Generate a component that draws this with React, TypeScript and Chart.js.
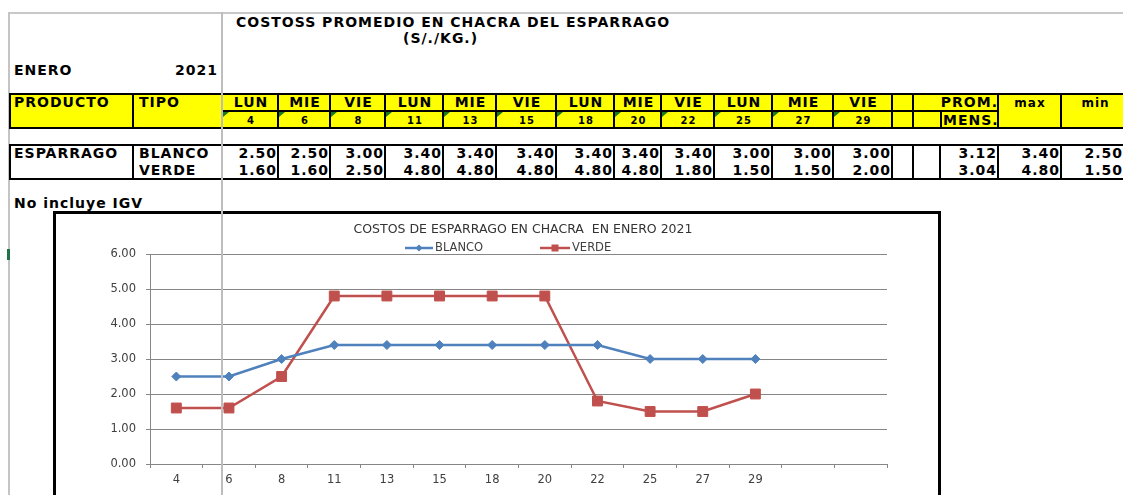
import React, { useEffect, useRef } from "react";
import { Chart, registerables } from "chart.js";

Chart.register(...registerables);

// ---------- data ----------
const SHEET_TITLE = "COSTOSS PROMEDIO EN CHACRA DEL ESPARRAGO";
const SHEET_UNIT = "(S/./KG.)";
const MONTH = "ENERO";
const YEAR = "2021";
const PRODUCT = "ESPÀRRAGO";
const TYPES = ["BLANCO", "VERDE"];
const DAY_NAMES = ["LUN", "MIE", "VIE", "LUN", "MIE", "VIE", "LUN", "MIE", "VIE", "LUN", "MIE", "VIE"];
const DAY_DATES = ["4", "6", "8", "11", "13", "15", "18", "20", "22", "25", "27", "29"];
const CHART_LABELS = [...DAY_DATES, "", ""];
const BLANCO = [2.5, 2.5, 3.0, 3.4, 3.4, 3.4, 3.4, 3.4, 3.4, 3.0, 3.0, 3.0];
const VERDE = [1.6, 1.6, 2.5, 4.8, 4.8, 4.8, 4.8, 4.8, 1.8, 1.5, 1.5, 2.0];
const PROM_MENS = [3.12, 3.04];
const MAX_VALS = [3.4, 4.8];
const MIN_VALS = [2.5, 1.5];
const CHART_TITLE = "COSTOS DE ESPARRAGO EN CHACRA  EN ENERO 2021";
const NOTE = "No incluye IGV";
const Y_MIN = 0;
const Y_MAX = 6;
const Y_STEP = 1;

// ---------- layout ----------
const COLS = [10, 133, 222, 278, 330, 385, 443, 496, 556, 614, 661, 714, 772, 833, 892, 913, 998, 1061, 1130];
const YEL = "#FFFF00";
const FONT = '"DejaVu Sans", "Liberation Sans", sans-serif';

const Box = ({ x0, y0, x1, y1, bg = "#fff" }: any) => (
  <div
    style={{
      position: "absolute",
      left: x0 - 1,
      top: y0 - 1,
      width: x1 - x0 + 2,
      height: y1 - y0 + 2,
      border: "2px solid #000",
      boxSizing: "border-box",
      background: bg,
    }}
  />
);

const T = ({ x, w, y, a = "left", s = 14, ls = 1, c }: any) => (
  <div
    style={{
      position: "absolute",
      left: x,
      top: y - 9,
      width: w,
      height: 18,
      lineHeight: "18px",
      textAlign: a,
      fontSize: s,
      fontWeight: 700,
      letterSpacing: ls + "px",
      whiteSpace: "nowrap",
      fontFamily: FONT,
      color: "#000",
      zIndex: 2,
    }}
  >
    {c}
  </div>
);

const Tri = ({ x, y }: any) => (
  <div
    style={{
      position: "absolute",
      left: x,
      top: y,
      width: 0,
      height: 0,
      borderTop: "5px solid #1b7a1b",
      borderRight: "6px solid transparent",
      zIndex: 3,
    }}
  />
);

function ChartBox() {
  const ref = useRef<HTMLCanvasElement>(null);
  useEffect(() => {
    if (!ref.current) return;
    const titleLegend = {
      id: "titleLegend",
      afterDraw(chart: any) {
        const ctx = chart.ctx;
        ctx.save();
        ctx.fillStyle = "#333333";
        ctx.font = '12.5px "DejaVu Sans"';
        ctx.textAlign = "center";
        ctx.textBaseline = "middle";
        ctx.fillText(CHART_TITLE, 467, 16);
        ctx.font = '11.5px "DejaVu Sans"';
        ctx.textAlign = "left";
        const items = [
          { x: 349, len: 28, ds: 0 },
          { x: 484, len: 30, ds: 1 },
        ];
        const ly = 34;
        items.forEach((it) => {
          const ds = chart.data.datasets[it.ds];
          ctx.strokeStyle = ds.borderColor;
          ctx.lineWidth = 2.5;
          ctx.beginPath();
          ctx.moveTo(it.x, ly);
          ctx.lineTo(it.x + it.len, ly);
          ctx.stroke();
          const cx = it.x + it.len / 2;
          ctx.fillStyle = ds.backgroundColor;
          ctx.beginPath();
          if (ds.pointStyle === "rectRot") {
            const r = 3.5;
            ctx.moveTo(cx, ly - r);
            ctx.lineTo(cx + r, ly);
            ctx.lineTo(cx, ly + r);
            ctx.lineTo(cx - r, ly);
            ctx.closePath();
          } else {
            ctx.rect(cx - 3.5, ly - 3.5, 7, 7);
          }
          ctx.fill();
          ctx.fillStyle = "#404040";
          ctx.fillText(ds.label, it.x + it.len + 2, ly);
        });
        ctx.restore();
      },
    };
    const tickFont = { family: "DejaVu Sans", size: 11.5 };
    const chart = new Chart(ref.current, {
      type: "line",
      data: {
        labels: CHART_LABELS,
        datasets: [
          {
            label: TYPES[0],
            data: BLANCO,
            borderColor: "#4F81BD",
            backgroundColor: "#4F81BD",
            borderWidth: 2.5,
            pointStyle: "rectRot",
            pointRadius: 4.5,
            pointBorderWidth: 1,
            pointBorderColor: "#4F81BD",
            pointBackgroundColor: "#4F81BD",
            tension: 0,
          },
          {
            label: TYPES[1],
            data: VERDE,
            borderColor: "#C0504D",
            backgroundColor: "#C0504D",
            borderWidth: 2.5,
            pointStyle: "rect",
            pointRadius: 7,
            pointBorderWidth: 1,
            pointBorderColor: "#C0504D",
            pointBackgroundColor: "#C0504D",
            tension: 0,
          },
        ],
      },
      options: {
        animation: false,
        responsive: false,
        devicePixelRatio: 1,
        events: [],
        layout: { padding: { top: 40, right: 51, left: 0, bottom: 0 } },
        plugins: {
          legend: { display: false },
          title: { display: false },
          tooltip: { enabled: false },
        },
        scales: {
          x: {
            type: "category",
            offset: true,
            grid: { offset: true, drawOnChartArea: false, drawTicks: true, tickLength: 4, color: "#868686" },
            border: { display: true, color: "#868686", width: 1 },
            ticks: { padding: 5, color: "#404040", font: tickFont, maxRotation: 0, autoSkip: false },
            afterFit: (s: any) => {
              s.height = 31;
            },
          },
          y: {
            min: Y_MIN,
            max: Y_MAX,
            ticks: {
              stepSize: Y_STEP,
              padding: 10,
              color: "#404040",
              font: tickFont,
              callback: (v: any) => Number(v).toFixed(2),
            },
            grid: { color: "#868686", tickLength: 4, drawTicks: true },
            border: { display: true, color: "#868686", width: 1 },
            afterFit: (s: any) => {
              s.width = 94;
            },
          },
        },
      },
      plugins: [titleLegend],
    } as any);
    return () => chart.destroy();
  }, []);
  return (
    <div
      style={{
        position: "absolute",
        left: 53,
        top: 211,
        width: 888,
        height: 320,
        border: "3px solid #000",
        boxSizing: "border-box",
        background: "#fff",
      }}
    >
      <canvas ref={ref} width={882} height={281} style={{ display: "block", width: 882, height: 281 }} />
    </div>
  );
}

export default function App() {
  const boxes: any[] = [];
  const texts: any[] = [];
  // header rows
  boxes.push(<Box key="hp" x0={10} y0={94} x1={133} y1={128} bg={YEL} />);
  boxes.push(<Box key="ht" x0={133} y0={94} x1={222} y1={128} bg={YEL} />);
  texts.push(<T key="tp" x={14} w={118} y={102} c="PRODUCTO" />);
  texts.push(<T key="tt" x={139} w={80} y={102} c="TIPO" />);
  DAY_NAMES.forEach((d, i) => {
    const x0 = COLS[i + 2];
    const x1 = COLS[i + 3];
    boxes.push(<Box key={"hd1" + i} x0={x0} y0={94} x1={x1} y1={111} bg={YEL} />);
    boxes.push(<Box key={"hd2" + i} x0={x0} y0={111} x1={x1} y1={128} bg={YEL} />);
    texts.push(<T key={"tdn" + i} x={x0 + 1} w={x1 - x0} y={102} a="center" c={d} />);
    texts.push(<T key={"tdd" + i} x={x0 + 1} w={x1 - x0} y={121} a="center" s={10} c={DAY_DATES[i]} />);
    texts.push(<Tri key={"tri" + i} x={x0 + 1} y={112} />);
  });
  boxes.push(<Box key="he1" x0={892} y0={94} x1={913} y1={111} bg={YEL} />);
  boxes.push(<Box key="he2" x0={892} y0={111} x1={913} y1={128} bg={YEL} />);
  boxes.push(<Box key="hpr1" x0={913} y0={94} x1={998} y1={111} bg={YEL} />);
  boxes.push(<Box key="hpr2" x0={913} y0={111} x1={941} y1={128} bg={YEL} />);
  boxes.push(<Box key="hpr3" x0={941} y0={111} x1={998} y1={128} bg={YEL} />);
  boxes.push(<Box key="hmax" x0={998} y0={94} x1={1061} y1={128} bg={YEL} />);
  boxes.push(<Box key="hmin" x0={1061} y0={94} x1={1130} y1={128} bg={YEL} />);
  texts.push(<T key="tprom" x={913} w={85} y={102} a="right" c="PROM." />);
  texts.push(<T key="tmens" x={943} w={60} y={120} c="MENS." />);
  texts.push(<T key="tmax" x={998} w={64} y={103} a="center" s={12} c="max" />);
  texts.push(<T key="tmin" x={1061} w={69} y={103} a="center" s={12} c="min" />);

  // data rows
  const DY0 = 145;
  const DY1 = 179;
  const L1 = 153;
  const L2 = 170;
  boxes.push(<Box key="dp" x0={10} y0={DY0} x1={133} y1={DY1} />);
  boxes.push(<Box key="dt" x0={133} y0={DY0} x1={222} y1={DY1} />);
  texts.push(<T key="dpt" x={14} w={118} y={L1} c={PRODUCT} />);
  texts.push(<T key="dt1" x={139} w={82} y={L1} c={TYPES[0]} />);
  texts.push(<T key="dt2" x={139} w={82} y={L2} c={TYPES[1]} />);
  DAY_DATES.forEach((_, i) => {
    const x0 = COLS[i + 2];
    const x1 = COLS[i + 3];
    boxes.push(<Box key={"dd" + i} x0={x0} y0={DY0} x1={x1} y1={DY1} />);
    texts.push(<T key={"dv1" + i} x={x0} w={x1 - x0 - 1} y={L1} a="right" c={BLANCO[i].toFixed(2)} />);
    texts.push(<T key={"dv2" + i} x={x0} w={x1 - x0 - 1} y={L2} a="right" c={VERDE[i].toFixed(2)} />);
  });
  boxes.push(<Box key="de1" x0={892} y0={DY0} x1={913} y1={DY1} />);
  boxes.push(<Box key="de2" x0={913} y0={DY0} x1={940} y1={DY1} />);
  boxes.push(<Box key="dpr" x0={940} y0={DY0} x1={998} y1={DY1} />);
  boxes.push(<Box key="dmx" x0={998} y0={DY0} x1={1061} y1={DY1} />);
  boxes.push(<Box key="dmn" x0={1061} y0={DY0} x1={1130} y1={DY1} />);
  [0, 1].forEach((r) => {
    const y = r === 0 ? L1 : L2;
    texts.push(<T key={"pm" + r} x={940} w={57} y={y} a="right" c={PROM_MENS[r].toFixed(2)} />);
    texts.push(<T key={"mx" + r} x={998} w={62} y={y} a="right" c={MAX_VALS[r].toFixed(2)} />);
    texts.push(<T key={"mn" + r} x={1061} w={62} y={y} a="right" c={MIN_VALS[r].toFixed(2)} />);
  });

  return (
    <div
      style={{
        position: "absolute",
        left: 0,
        top: 0,
        width: 1123,
        height: 495,
        overflow: "hidden",
        background: "#fff",
        fontFamily: FONT,
      }}
    >
      {/* sheet lines */}
      <div style={{ position: "absolute", left: 8, top: 12, width: 1115, height: 2, background: "#c8c8c8" }} />
      <div style={{ position: "absolute", left: 8, top: 12, width: 2, height: 483, background: "#c4c4c4" }} />
      <div style={{ position: "absolute", left: 7, top: 249, width: 3, height: 11, background: "#217346" }} />

      <T x={236} w={500} y={22} c={SHEET_TITLE} />
      <T x={403} w={100} y={38} c={SHEET_UNIT} />
      <T x={14} w={80} y={70} c={MONTH} />
      <T x={150} w={68} y={70} a="right" c={YEAR} />

      {boxes}
      {texts}

      <T x={14} w={160} y={203} c={NOTE} />

      <ChartBox />

      {/* frozen pane line */}
      <div style={{ position: "absolute", left: 221, top: 12, width: 2, height: 483, background: "#bdbdbd", zIndex: 10 }} />
    </div>
  );
}
